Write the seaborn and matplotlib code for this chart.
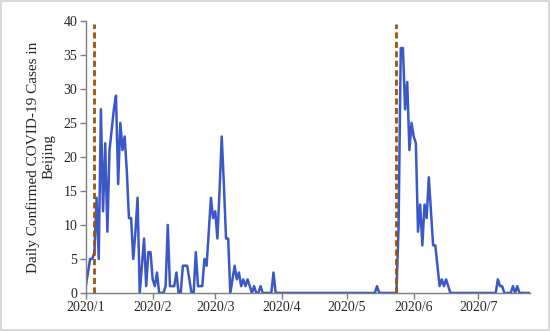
import pandas as pd
import matplotlib
matplotlib.use("Agg")
import matplotlib.pyplot as plt
import seaborn as sns

# daily confirmed cases in Beijing, one value per day from 2020-01-20
start_date = "2020-01-20"
cases = [
    1, 3, 5, 5, 6, 14, 5, 27, 12, 22,
    9, 21, 24, 27, 29, 16, 25, 21, 23, 18,
    11, 11, 5, 9, 14, 0, 4, 8, 1, 6,
    6, 2, 1, 3, 0, 0, 0, 1, 10, 1,
    1, 1, 3, 0, 0, 4, 4, 4, 2, 0,
    0, 6, 1, 1, 1, 5, 4, 9, 14, 11,
    12, 8, 15, 23, 16, 8, 8, 0, 2, 4,
    2, 3, 1, 2, 1, 2, 1, 0, 1, 0,
    0, 1, 0, 0, 0, 0, 0, 3, 0, 0,
    0, 0, 0, 0, 0, 0, 0, 0, 0, 0,
    0, 0, 0, 0, 0, 0, 0, 0, 0, 0,
    0, 0, 0, 0, 0, 0, 0, 0, 0, 0,
    0, 0, 0, 0, 0, 0, 0, 0, 0, 0,
    0, 0, 0, 0, 0, 1, 0, 0, 0, 0,
    0, 0, 0, 0, 0, 10, 36, 36, 27, 31,
    21, 25, 23, 22, 9, 13, 7, 13, 11, 17,
    12, 7, 7, 4, 1, 2, 1, 2, 1, 0,
    0, 0, 0, 0, 0, 0, 0, 0, 0, 0,
    0, 0, 0, 0, 0, 0, 0, 0, 0, 0,
    0, 2, 1, 1, 0, 0, 0, 0, 1, 0,
    1, 0, 0, 0, 0, 0, 0,
]
tick_dates = ["2020-01-20", "2020-02-20", "2020-03-20", "2020-04-20",
              "2020-05-20", "2020-06-20", "2020-07-20"]
tick_labels = ["2020/1", "2020/2", "2020/3", "2020/4", "2020/5", "2020/6", "2020/7"]
event_dates = ["2020-01-24", "2020-06-12"]

df = pd.DataFrame({
    "date": pd.date_range(start_date, periods=len(cases), freq="D"),
    "cases": cases,
})

sns.set_theme(style="white")
plt.rcParams["font.family"] = ["Liberation Serif", "DejaVu Serif"]

fig = plt.figure(figsize=(5.5, 3.31), dpi=100)
ax = fig.add_axes([0.156, 0.115, 0.808, 0.822])

sns.lineplot(data=df, x="date", y="cases", ax=ax, color="#3a58c6", linewidth=1.8)
for d in event_dates:
    ax.vlines(pd.Timestamp(d), 0, 39.5, colors="#9a5414",
              linestyles=(0, (2.2, 1.2)), linewidth=2)

ax.set_xlim(df["date"].iloc[0], df["date"].iloc[-1])
ax.set_ylim(0, 40)
ax.set_yticks(range(0, 41, 5))
ax.set_xticks(pd.to_datetime(tick_dates))
ax.set_xticklabels(tick_labels)
ax.set_xlabel("")
ax.set_ylabel("Daily Confirmed COVID-19 Cases in\nBeijing", fontsize=11, labelpad=6)

sns.despine(ax=ax)
for s in ["left", "bottom"]:
    ax.spines[s].set_color("#7f7f7f")
    ax.spines[s].set_linewidth(1)
ax.tick_params(axis="both", direction="out", length=4, width=1, color="#7f7f7f",
               labelsize=10, left=True, bottom=True, pad=2)

fig.patch.set_edgecolor("#d9d9d9")
fig.patch.set_linewidth(1.5)
fig.savefig("out.png", dpi=100)
